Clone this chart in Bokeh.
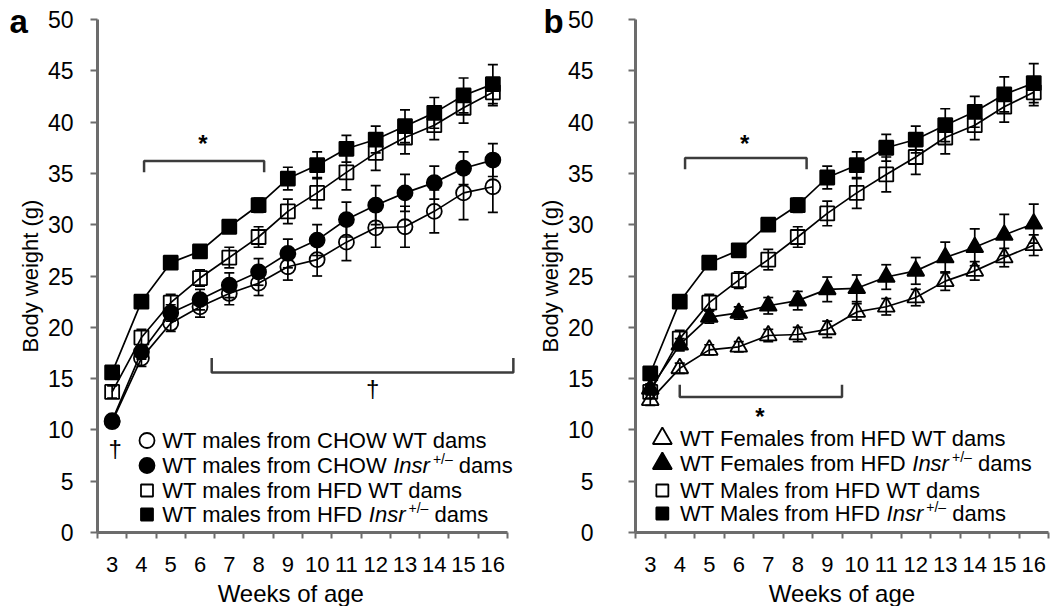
from bokeh.plotting import figure
from bokeh.models import Range1d, FixedTicker, Label, Whisker, ColumnDataSource, TeeHead
from bokeh.layouts import row
from bokeh.embed import file_html
from bokeh.resources import INLINE

# ---------------- data ----------------
weeks = list(range(3, 17))
week_labels = [str(w) for w in weeks]
y_ticks = list(range(0, 51, 5))

# panel a (males)
a_chow_wt = [10.8, 17.0, 20.4, 22.0, 23.3, 24.3, 25.9, 26.6, 28.3, 29.7, 29.8, 31.3, 33.1, 33.7]
a_chow_wt_err = [0.4, 0.8, 0.8, 1.0, 1.1, 1.2, 1.3, 1.6, 1.8, 1.9, 2.0, 2.1, 2.6, 2.5]
a_chow_insr = [10.9, 17.6, 21.4, 22.7, 24.1, 25.4, 27.2, 28.5, 30.5, 31.9, 33.1, 34.1, 35.5, 36.3]
a_chow_insr_err = [0.4, 0.7, 0.8, 1.0, 1.2, 1.3, 1.4, 1.5, 1.7, 1.9, 1.8, 1.6, 1.6, 1.6]
a_hfd_wt = [13.7, 19.0, 22.4, 24.8, 26.8, 28.8, 31.3, 33.1, 35.1, 37.0, 38.5, 39.7, 41.4, 42.9]
a_hfd_wt_err = [0.6, 0.8, 0.8, 0.8, 1.0, 1.0, 1.2, 1.5, 1.7, 1.7, 1.6, 1.4, 1.5, 1.3]
a_hfd_insr = [15.6, 22.5, 26.3, 27.4, 29.8, 31.9, 34.5, 35.8, 37.4, 38.3, 39.6, 40.9, 42.6, 43.7]
a_hfd_insr_err = [0.5, 0.5, 0.5, 0.5, 0.6, 0.7, 1.1, 1.3, 1.3, 1.3, 1.6, 1.5, 1.7, 1.9]

# panel b (females + males from HFD dams)
b_fem_wt = [12.9, 16.0, 17.8, 18.1, 19.2, 19.3, 19.8, 21.5, 22.0, 22.9, 24.5, 25.5, 26.8, 28.0]
b_fem_wt_err = [0.5, 0.5, 0.5, 0.5, 0.6, 0.7, 0.8, 0.8, 0.8, 0.8, 0.9, 0.9, 0.9, 1.0]
b_fem_insr = [14.0, 18.3, 21.0, 21.4, 22.1, 22.6, 23.7, 23.8, 24.9, 25.5, 26.8, 27.8, 29.0, 30.1]
b_fem_insr_err = [0.5, 0.6, 0.6, 0.6, 0.8, 0.9, 1.2, 1.3, 1.2, 1.3, 1.5, 1.8, 2.0, 1.9]
b_male_wt = [13.7, 18.9, 22.4, 24.6, 26.6, 28.8, 31.1, 33.1, 34.9, 36.6, 38.5, 39.7, 41.5, 42.9]
b_male_wt_err = [0.6, 0.8, 0.8, 0.8, 1.0, 1.0, 1.2, 1.5, 1.7, 1.7, 1.6, 1.4, 1.5, 1.3]
b_male_insr = [15.5, 22.5, 26.3, 27.5, 30.0, 31.9, 34.6, 35.8, 37.5, 38.3, 39.7, 41.0, 42.7, 43.8]
b_male_insr_err = [0.5, 0.5, 0.5, 0.5, 0.6, 0.7, 1.1, 1.3, 1.3, 1.3, 1.6, 1.5, 1.7, 1.9]

a_legend = [
    [("WT males from CHOW WT dams", "normal")],
    [("WT males from CHOW ", "normal"), ("Insr", "italic"), ("+/\u2013", "sup"), (" dams", "normal")],
    [("WT males from HFD WT dams", "normal")],
    [("WT males from HFD ", "normal"), ("Insr", "italic"), ("+/\u2013", "sup"), (" dams", "normal")],
]
b_legend = [
    [("WT Females from HFD WT dams", "normal")],
    [("WT Females from HFD ", "normal"), ("Insr", "italic"), ("+/\u2013", "sup"), (" dams", "normal")],
    [("WT Males from HFD WT dams", "normal")],
    [("WT Males from HFD ", "normal"), ("Insr", "italic"), ("+/\u2013", "sup"), (" dams", "normal")],
]

# significance brackets: (x_start, x_end, y, tick depth, symbol, sym_x, sym_y)
a_brackets = [(4.09, 8.19, 36.2, -1.1, "*", 6.1, 37.9), (6.4, 16.7, 15.6, 1.4, "\u2020", 11.9, 14.0)]
a_extra_marks = [("\u2020", 3.1, 8.2)]
b_brackets = [(4.18, 8.3, 36.5, -1.1, "*", 6.2, 37.9), (4.0, 9.5, 13.2, 1.2, "*", 6.72, 11.35)]

# ---------------- style / layout ----------------
FONT = "Liberation Sans"
AXIS_COL = "#6c6c6c"
BR_COL = "#3c3c3c"
FIG_H = 606
Y0_PX = 532          # page y of value 0
Y50_PX = 19          # page y of value 50
PX_PER_Y = (Y0_PX - Y50_PX) / 50.0

ARIAL = {' ': 278, 'W': 944, 'T': 611, 'm': 833, 'a': 556, 'l': 222, 'e': 556, 's': 500,
         'f': 278, 'r': 333, 'o': 556, 'C': 722, 'H': 722, 'O': 778, 'D': 722, 'F': 611,
         'M': 833, 'I': 278, 'n': 556, 'd': 556, '+': 584, '/': 278, '\u2013': 556}


def tw(s, size):
    return sum(ARIAL.get(c, 556) for c in s) * size / 1000.0


def make_fig(width, axis_px, plot_w, ylab_standoff):
    px_w = plot_w / 14.0
    x0 = 2.5 - axis_px / px_w
    x1 = 2.5 + (width - axis_px) / px_w
    ytop = 50 + Y50_PX / PX_PER_Y
    ybot = -(FIG_H - Y0_PX) / PX_PER_Y
    p = figure(width=width, height=FIG_H, x_range=Range1d(x0, x1), y_range=Range1d(ybot, ytop),
               output_backend="svg", toolbar_location=None, min_border=0,
               min_border_left=0, min_border_right=0, min_border_top=0, min_border_bottom=0)
    p.outline_line_color = None
    p.grid.grid_line_color = None
    p.background_fill_color = "white"
    p.border_fill_color = "white"

    xa = p.xaxis[0]
    xa.fixed_location = 0
    xa.bounds = (2.5, 16.5)
    xa.ticker = FixedTicker(ticks=weeks, minor_ticks=[w - 0.5 for w in weeks] + [16.5])
    xa.major_label_overrides = {w: l for w, l in zip(weeks, week_labels)}
    xa.major_tick_out = 0
    xa.major_tick_in = 0
    xa.minor_tick_out = 6
    xa.minor_tick_in = 0
    xa.minor_tick_line_color = AXIS_COL
    xa.minor_tick_line_width = 2
    xa.axis_line_color = AXIS_COL
    xa.axis_line_width = 3
    xa.major_label_text_font = FONT
    xa.major_label_text_font_size = "22px"
    xa.major_label_text_color = "black"
    xa.major_label_standoff = 18

    ya = p.yaxis[0]
    ya.fixed_location = 2.5
    ya.bounds = (0, 50)
    ya.ticker = FixedTicker(ticks=y_ticks)
    ya.major_tick_out = 7
    ya.major_tick_in = 0
    ya.major_tick_line_color = AXIS_COL
    ya.major_tick_line_width = 2
    ya.minor_tick_line_color = None
    ya.axis_line_color = AXIS_COL
    ya.axis_line_width = 3
    ya.major_label_text_font = FONT
    ya.major_label_text_font_size = "23px"
    ya.major_label_text_color = "black"
    ya.major_label_standoff = ylab_standoff
    ya.axis_label = "Body weight (g)"
    ya.axis_label_text_font = FONT
    ya.axis_label_text_font_size = "22px"
    ya.axis_label_text_font_style = "normal"
    ya.axis_label_text_color = "black"
    ya.axis_label_standoff = 2
    return p, px_w


def series(p, ys, errs, marker, filled, size):
    src = ColumnDataSource(dict(x=weeks, y=ys,
                                upper=[y + e for y, e in zip(ys, errs)],
                                lower=[y - e for y, e in zip(ys, errs)]))
    p.line("x", "y", source=src, line_color="black", line_width=1.7)
    p.add_layout(Whisker(source=src, base="x", upper="upper", lower="lower",
                         line_color="black", line_width=1.7,
                         upper_head=TeeHead(size=10, line_color="black", line_width=1.7),
                         lower_head=TeeHead(size=10, line_color="black", line_width=1.7)))
    p.scatter("x", "y", source=src, marker=marker, size=size, line_color="black", line_width=1.8,
              fill_color="black" if filled else None)


def brackets(p, specs):
    for x0, x1, y, d, sym, sx, sy in specs:
        p.line([x0, x0, x1, x1], [y + d, y, y, y + d], line_color=BR_COL, line_width=2.5)
        p.add_layout(Label(x=sx, y=sy, text=sym, text_font=FONT, text_font_size="24px",
                           text_font_style="bold" if sym == "*" else "normal",
                           text_align="center", text_baseline="alphabetic", text_color="black"))


def legend(p, entries, markers, mx, tx, rows):
    for pieces, (mk, filled, msize), ry in zip(entries, markers, rows):
        p.scatter([mx], [ry], marker=mk, size=msize, line_color="black", line_width=1.8,
                  fill_color="black" if filled else None)
        off = 0.0
        for txt, style in pieces:
            if style == "sup":
                off += 3
                p.add_layout(Label(x=tx, y=ry, x_offset=off, y_offset=7, text=txt, text_font=FONT,
                                   text_font_size="14px", text_baseline="middle", text_color="black"))
                off += tw(txt, 14)
            else:
                lead = len(txt) - len(txt.lstrip(" "))
                off += tw(" " * lead, 22)
                body = txt.lstrip(" ")
                p.add_layout(Label(x=tx, y=ry, x_offset=off, y_offset=0, text=body, text_font=FONT,
                                   text_font_size="22px", text_font_style=style,
                                   text_baseline="middle", text_color="black"))
                off += tw(body, 22)


def yv(page_y):
    return (Y0_PX - page_y) / PX_PER_Y


# ---------------- panel a ----------------
pa, pxa = make_fig(527, 97, 410, 17)
series(pa, a_chow_wt, a_chow_wt_err, "circle", False, 15)
series(pa, a_chow_insr, a_chow_insr_err, "circle", True, 15)
series(pa, a_hfd_wt, a_hfd_wt_err, "square", False, 14)
series(pa, a_hfd_insr, a_hfd_insr_err, "square", True, 14)
brackets(pa, a_brackets)
for sym, sx, sy in a_extra_marks:
    pa.add_layout(Label(x=sx, y=sy, text=sym, text_font=FONT, text_font_size="24px",
                        text_align="center", text_baseline="alphabetic", text_color="black"))
legend(pa, a_legend, [("circle", False, 15), ("circle", True, 15), ("square", False, 12), ("square", True, 12)],
       4.19, 4.71, [yv(440), yv(465), yv(490), yv(514)])
pa.add_layout(Label(x=2.5 - (97 - 9) / pxa, y=yv(21), text="a", text_font=FONT, text_font_size="33px",
                    text_font_style="bold", text_baseline="alphabetic", text_color="black"))
pa.add_layout(Label(x=9.1, y=yv(579), text="Weeks of age", text_font=FONT, text_font_size="24px",
                    text_align="center", text_baseline="top", text_color="black"))

# ---------------- panel b ----------------
pb, pxb = make_fig(523, 108, 413, 35)
series(pb, b_fem_wt, b_fem_wt_err, "triangle", False, 17)
series(pb, b_fem_insr, b_fem_insr_err, "triangle", True, 17)
series(pb, b_male_wt, b_male_wt_err, "square", False, 14)
series(pb, b_male_insr, b_male_insr_err, "square", True, 14)
brackets(pb, b_brackets)
legend(pb, b_legend, [("triangle", False, 19), ("triangle", True, 19), ("square", False, 12), ("square", True, 12)],
       3.41, 4.01, [yv(438), yv(463), yv(490), yv(513)])
pb.add_layout(Label(x=2.5 - (635 - 543) / pxb, y=yv(21), text="b", text_font=FONT, text_font_size="33px",
                    text_font_style="bold", text_baseline="alphabetic", text_color="black"))
pb.add_layout(Label(x=9.5, y=yv(579), text="Weeks of age", text_font=FONT, text_font_size="24px",
                    text_align="center", text_baseline="top", text_color="black"))

layout = row(pa, pb, spacing=0)
open("out.html", "w").write(file_html(layout, INLINE))
